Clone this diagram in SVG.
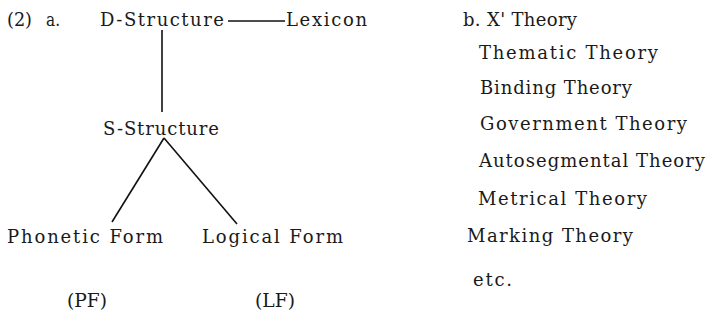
<svg xmlns="http://www.w3.org/2000/svg" width="719" height="322" viewBox="0 0 719 322">
<style>
text{font-family:"DejaVu Serif","Liberation Serif",serif;font-size:18px;fill:#1a1a1a}
.c{stroke:#111;stroke-width:1.6;fill:none}
</style>
<rect width="719" height="322" fill="#fff"/>
<g id="label-a">
<text x="7" y="26" textLength="25" lengthAdjust="spacingAndGlyphs">(2)</text>
<text x="46" y="26" textLength="14" lengthAdjust="spacingAndGlyphs">a.</text>
</g>
<g id="d-structure"><text x="100" y="26" textLength="124" lengthAdjust="spacing">D-Structure</text></g>
<g id="lexicon"><text x="286" y="26" textLength="81" lengthAdjust="spacing">Lexicon</text></g>
<g id="s-structure"><text x="103" y="135" textLength="116" lengthAdjust="spacing">S-Structure</text></g>
<g id="phonetic-form"><text x="7" y="243" textLength="156" lengthAdjust="spacing">Phonetic Form</text></g>
<g id="logical-form"><text x="202" y="243" textLength="141" lengthAdjust="spacing">Logical Form</text></g>
<g id="pf"><text x="67" y="307" textLength="40" lengthAdjust="spacingAndGlyphs">(PF)</text></g>
<g id="lf"><text x="255" y="307" textLength="40" lengthAdjust="spacingAndGlyphs">(LF)</text></g>
<g id="connectors">
<line class="c" x1="228" y1="21" x2="285" y2="21"/>
<line class="c" x1="162" y1="30" x2="162" y2="112"/>
<line class="c" x1="164" y1="138" x2="112" y2="222"/>
<line class="c" x1="164" y1="138" x2="237" y2="224"/>
</g>
<g id="list-b">
<text x="463" y="26" textLength="114" lengthAdjust="spacing">b. X' Theory</text>
<text x="479" y="59" textLength="179" lengthAdjust="spacing">Thematic Theory</text>
<text x="480" y="94" textLength="152" lengthAdjust="spacing">Binding Theory</text>
<text x="480" y="130" textLength="207" lengthAdjust="spacing">Government Theory</text>
<text x="479" y="167" textLength="226" lengthAdjust="spacing">Autosegmental Theory</text>
<text x="478" y="205" textLength="169" lengthAdjust="spacing">Metrical Theory</text>
<text x="467" y="242" textLength="166" lengthAdjust="spacing">Marking Theory</text>
<text x="473" y="286" textLength="39" lengthAdjust="spacing">etc.</text>
</g>
</svg>
